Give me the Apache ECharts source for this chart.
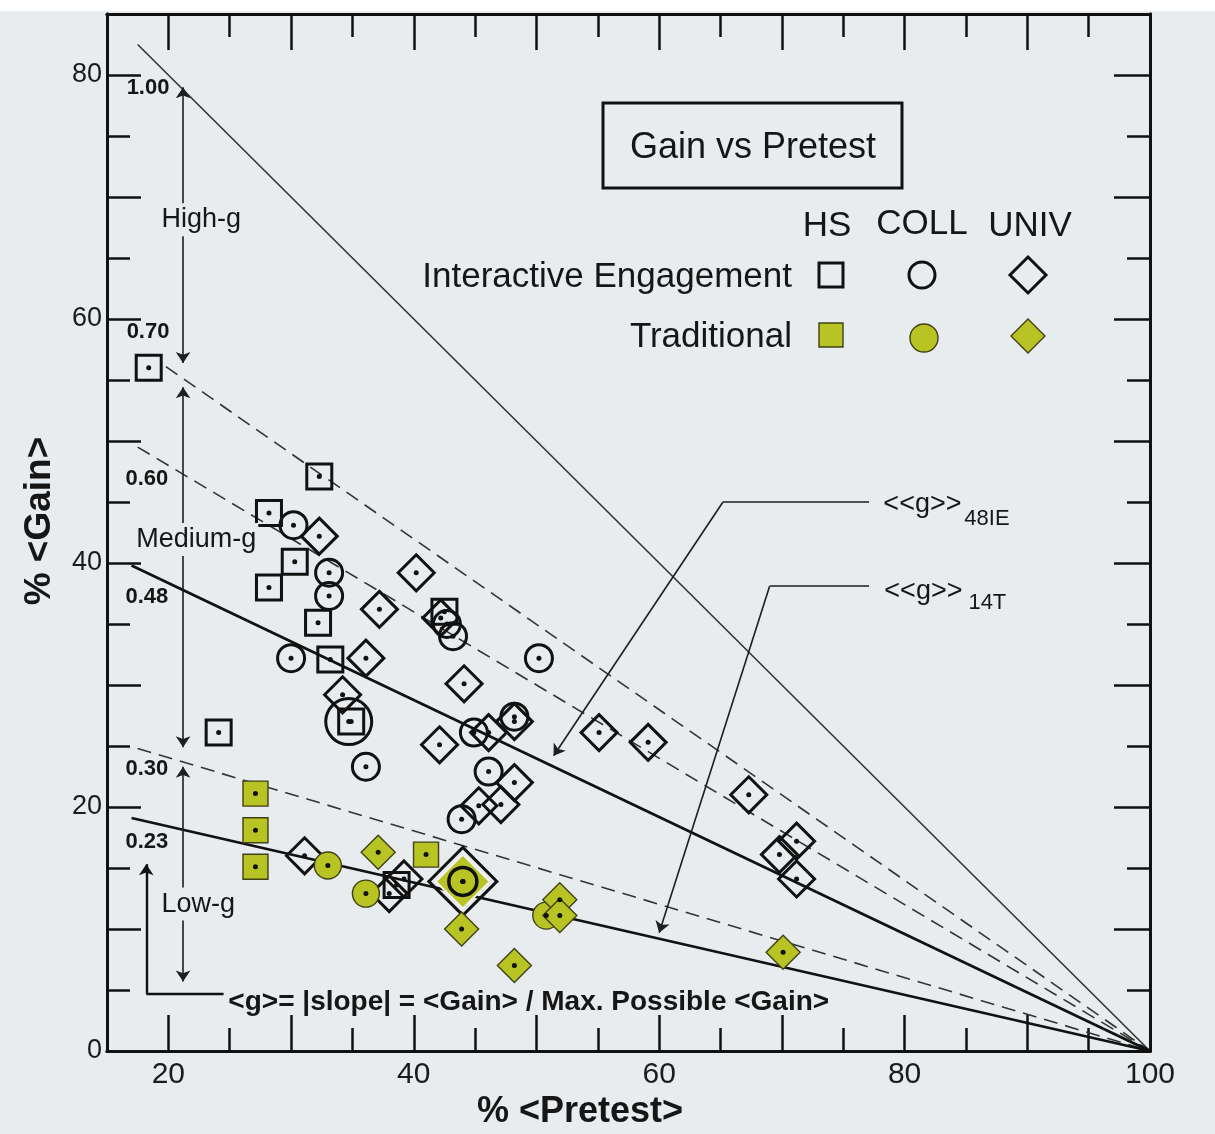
<!DOCTYPE html>
<html><head><meta charset="utf-8">
<script src="https://cdn.jsdelivr.net/npm/echarts@6/dist/echarts.min.js"></script>
<style>html,body{margin:0;padding:0;background:#e8ecee}#c{width:1215px;height:1134px}</style>
</head><body><div id="c"></div>
<script>
// ---------- data ----------
// Interactive Engagement
const hsIE = [[18.4,56.0],[32.3,47.1],[28.2,44.1],[30.3,40.1],[28.2,38.0],[32.2,35.1],[33.2,32.1],[34.9,27.0],[24.1,26.1],[42.5,36.0],[38.6,13.6]];
const collIE = [[30.2,43.1],[33.1,39.2],[33.1,37.3],[30.0,32.2],[43.2,34.0],[42.7,35.0],[50.2,32.2],[36.1,23.3],[44.9,26.1],[48.2,27.4],[46.1,22.9],[43.9,19.0]];
const collIELarge = [[34.7,27.0]];
const univIE = [[32.3,42.2],[37.2,36.2],[40.2,39.2],[36.1,32.2],[34.2,29.2],[44.1,30.1],[42.1,25.1],[42.2,35.5],[46.1,26.1],[48.2,22.0],[47.1,20.2],[45.3,20.1],[48.2,27.0],[55.1,26.1],[59.1,25.3],[67.3,21.0],[71.2,17.2],[69.8,16.1],[71.2,14.1],[31.1,16.0],[39.2,14.1],[38.0,12.9]];
const univIELarge = [[44.0,13.9]];
// Traditional
const hsTrad = [[27.1,21.1],[27.1,18.1],[27.1,15.1],[41.0,16.1]];
const collTrad = [[33.0,15.2],[36.1,12.9],[50.8,11.1]];
const collTradOutlined = [[44.0,13.9]];
const univTrad = [[37.1,16.3],[43.9,10.0],[48.2,7.0],[51.9,12.4],[51.9,11.1],[70.1,8.1]];
const univTradLarge = [[44.0,13.9]];

// g reference lines: label, start point (all end at Pretest 100, Gain 0)
const gLabels = ['1.00','0.70','0.60','0.48','0.30','0.23'];
const gLineStart = [[17.5,82.5],[19.8,56.1],[17.5,49.5],[17.0,39.8],[17.5,24.8],[17.0,19.1]];
const gLineEnd = [100,0];
const gLabelPos = [[16.6,78.95],[16.6,58.9],[16.5,46.85],[16.5,37.2],[16.5,23.1],[16.5,17.1]];

// axis ticks / labels
const xLabelValues = [20,40,60,80,100];
const xMajorTicks = [20,30,40,50,60,70,80,90];
const xMinorTicks = [25,35,45,55,65,75,85,95];
const yLabelValues = [0,20,40,60,80];
const yMajorTicks = [10,20,30,40,50,60,70,80];
const yMinorTicks = [5,15,25,35,45,55,65,75];

// ---------- styling ----------
const BG = '#e8ecee';
const GREEN = '#b8c423';
const INK = '#111111';
const FONT = '"Liberation Sans", Arial, Helvetica, sans-serif';

const chart = echarts.init(document.getElementById('c'), null, {renderer:'canvas'});

function xAx(pos, ticks, len, labels) {
  return {type:'value', min:15, max:100, position:pos,
    axisLine:{show:true, onZero:false, lineStyle:{color:INK, width:3}},
    axisTick:{show:true, inside:true, length:len, customValues:ticks, lineStyle:{color:INK, width:2.5}},
    axisLabel: labels ? {show:true, customValues:labels, fontSize:30, margin:9, color:'#1b1b1b', fontFamily:FONT} : {show:false},
    splitLine:{show:false}};
}
function yAx(pos, ticks, len, labels) {
  return {type:'value', min:0, max:85, position:pos,
    axisLine:{show:true, onZero:false, lineStyle:{color:INK, width:3}},
    axisTick:{show:true, inside:true, length:len, customValues:ticks, lineStyle:{color:INK, width:2.5}},
    axisLabel: labels ? {show:true, customValues:labels, fontSize:27, margin:5, color:'#1b1b1b', fontFamily:FONT} : {show:false},
    splitLine:{show:false}};
}

const gStyles = [
  {type:'solid', width:1.6, color:'#333'},
  {type:[14,8], width:1.6, color:'#333'},
  {type:[14,8], width:1.6, color:'#333'},
  {type:'solid', width:2.7, color:INK},
  {type:[14,8], width:1.6, color:'#333'},
  {type:'solid', width:2.7, color:INK}
];

const series = [];
gLabels.forEach((g,i) => {
  series.push({type:'line', name:'g'+g, data:[gLineStart[i], gLineEnd], symbol:'none', silent:true,
    lineStyle:gStyles[i], z:1, animation:false});
});

function openSym(name, data, symbol, size, bw) {
  return {type:'scatter', name, data, symbol, symbolSize:size, z:3, animation:false, silent:true,
    itemStyle:{color:'rgba(0,0,0,0)', borderColor:INK, borderWidth:bw||3, opacity:1}};
}
function fillSym(name, data, symbol, size, bc, bw) {
  return {type:'scatter', name, data, symbol, symbolSize:size, z:3, animation:false, silent:true,
    itemStyle:{color:GREEN, borderColor:bc||'#3f4118', borderWidth:bw||1.4, opacity:1}};
}

series.push(openSym('HS IE', hsIE, 'rect', 25));
series.push(openSym('COLL IE', collIE, 'circle', 27));
series.push(openSym('COLL IE large', collIELarge, 'circle', 46));
series.push(openSym('UNIV IE', univIE, 'diamond', 36));
series.push(openSym('UNIV IE large', univIELarge, 'diamond', 68, 3));
series.push(fillSym('UNIV Trad large', univTradLarge, 'diamond', 54, '#f2f2f2', 2));
series.push(fillSym('HS Trad', hsTrad, 'rect', 25));
series.push(fillSym('COLL Trad', collTrad, 'circle', 27));
series.push(fillSym('UNIV Trad', univTrad, 'diamond', 34));
series.push(fillSym('COLL Trad outlined', collTradOutlined, 'circle', 28, INK, 3.5));
// centre dots of every marker
const allPts = [].concat(hsIE, collIE, collIELarge, univIE, univIELarge, hsTrad, collTrad, collTradOutlined, univTrad, univTradLarge);
series.push({type:'scatter', name:'dots', data:allPts, symbol:'circle', symbolSize:5, z:4, silent:true, animation:false,
  itemStyle:{color:INK, opacity:1}});

// annotation arrows (data coordinates)
const arrowX = 21.2;
const rangeHigh = [56.4, 79.0], rangeMedium = [24.9, 54.4], rangeLow = [5.7, 23.3];
const lineArrowStyle = {color:'#1e1e1e', width:1.6, opacity:1, curveness:0};
series.push({type:'lines', coordinateSystem:'cartesian2d', silent:true, animation:false, z:2,
  symbol:['arrow','arrow'], symbolSize:11, lineStyle:lineArrowStyle,
  data:[{coords:[[arrowX,rangeHigh[0]],[arrowX,rangeHigh[1]]]},
        {coords:[[arrowX,rangeMedium[1]],[arrowX,rangeMedium[0]]]},
        {coords:[[arrowX,rangeLow[1]],[arrowX,rangeLow[0]]]}]});
series.push({type:'lines', coordinateSystem:'cartesian2d', silent:true, animation:false, z:2,
  symbol:['none','arrow'], symbolSize:11, lineStyle:lineArrowStyle,
  data:[{coords:[[18.2,4.7],[18.2,15.3]], lineStyle:{width:2.4, color:INK}},
        {coords:[[65.2,45.0],[51.4,24.2]]},
        {coords:[[69.0,38.1],[60.0,9.7]]}]});
series.push({type:'lines', coordinateSystem:'cartesian2d', silent:true, animation:false, z:2,
  symbol:['none','none'], lineStyle:lineArrowStyle,
  data:[{coords:[[24.5,4.7],[18.2,4.7]], lineStyle:{width:2.4, color:INK}},
        {coords:[[65.2,45.0],[77.1,45.0]]},
        {coords:[[69.0,38.1],[77.1,38.1]]}]});

chart.setOption({
  backgroundColor: BG,
  animation:false,
  grid:{left:107, right:65, top:14, bottom:83, show:false},
  xAxis:[xAx('bottom', xMajorTicks, 36, xLabelValues), xAx('bottom', xMinorTicks, 23, null),
         xAx('top', xMajorTicks, 36, null), xAx('top', xMinorTicks, 23, null)],
  yAxis:[yAx('left', yMajorTicks, 34, yLabelValues), yAx('left', yMinorTicks, 23, null),
         yAx('right', yMajorTicks, 36, null), yAx('right', yMinorTicks, 23, null)],
  series
});

// ---------- texts ----------
const P = (pt) => chart.convertToPixel({gridIndex:0}, pt);
function txt(pt, text, font, align, vAlign, extra) {
  return Object.assign({type:'text', x:pt[0], y:pt[1], z:10, silent:true,
    style:Object.assign({text, font, fill:'#161616', align, verticalAlign:vAlign,
      textAlign:align, textVerticalAlign:vAlign}, extra||{})});
}
const g = [];
g.push({type:'rect', shape:{x:0,y:0,width:1215,height:11}, style:{fill:'#ffffff'}, z:0, silent:true});
gLabels.forEach((lab,i) => g.push(txt(P(gLabelPos[i]), lab, 'bold 22px '+FONT, 'left', 'middle')));
const bgBox = {backgroundColor:BG, padding:[3,2]};
g.push(txt(P([22.69,68.14]), 'High-g', '27px '+FONT, 'center', 'middle', bgBox));
g.push(txt(P([22.28,41.93]), 'Medium-g', '27px '+FONT, 'center', 'middle', bgBox));
g.push(txt(P([22.44,12.04]), 'Low-g', '27px '+FONT, 'center', 'middle', bgBox));
g.push(txt(P([24.89,4.01]), '<g>= |slope| = <Gain> / Max. Possible <Gain>', 'bold 28px '+FONT, 'left', 'middle'));
g.push(txt(P([78.27,44.8]), '<<g>>', '27px '+FONT, 'left', 'middle'));
g.push(txt(P([84.87,43.6]), '48IE', '22px '+FONT, 'left', 'middle'));
g.push(txt(P([78.35,37.67]), '<<g>>', '27px '+FONT, 'left', 'middle'));
g.push(txt(P([85.2,36.7]), '14T', '22px '+FONT, 'left', 'middle'));
// axis titles
g.push(txt([580,1112], '% <Pretest>', 'bold 36px '+FONT, 'center', 'middle'));
g.push(Object.assign(txt([40,521], '% <Gain>', 'bold 37px '+FONT, 'center', 'middle'), {rotation:Math.PI/2}));
// legend box
g.push({type:'rect', shape:{x:603,y:103,width:299,height:85}, style:{fill:'none', stroke:INK, lineWidth:3}, z:10, silent:true});
g.push(txt([753,148], 'Gain vs Pretest', '36px '+FONT, 'center', 'middle'));
g.push(txt([827,226], 'HS', '35px '+FONT, 'center', 'middle'));
g.push(txt([922,224], 'COLL', '35px '+FONT, 'center', 'middle'));
g.push(txt([1030,226], 'UNIV', '35px '+FONT, 'center', 'middle'));
g.push(txt([792,277], 'Interactive Engagement', '35px '+FONT, 'right', 'middle'));
g.push(txt([792,337], 'Traditional', '35px '+FONT, 'right', 'middle'));
function diamond(cx, cy, r) { return [[cx,cy-r],[cx+r,cy],[cx,cy+r],[cx-r,cy]]; }
g.push({type:'rect', shape:{x:819,y:263,width:24,height:24}, style:{fill:'none', stroke:INK, lineWidth:3}, z:10});
g.push({type:'circle', shape:{cx:922,cy:275,r:13}, style:{fill:'none', stroke:INK, lineWidth:3}, z:10});
g.push({type:'polygon', shape:{points:diamond(1028,275,18)}, style:{fill:'none', stroke:INK, lineWidth:3}, z:10});
g.push({type:'rect', shape:{x:819,y:323,width:24,height:24}, style:{fill:GREEN, stroke:'#3f4118', lineWidth:1.4}, z:10});
g.push({type:'circle', shape:{cx:924,cy:338,r:14}, style:{fill:GREEN, stroke:'#3f4118', lineWidth:1.4}, z:10});
g.push({type:'polygon', shape:{points:diamond(1028,336,17)}, style:{fill:GREEN, stroke:'#3f4118', lineWidth:1.4}, z:10});

chart.setOption({graphic:{elements:g}});
</script></body></html>
